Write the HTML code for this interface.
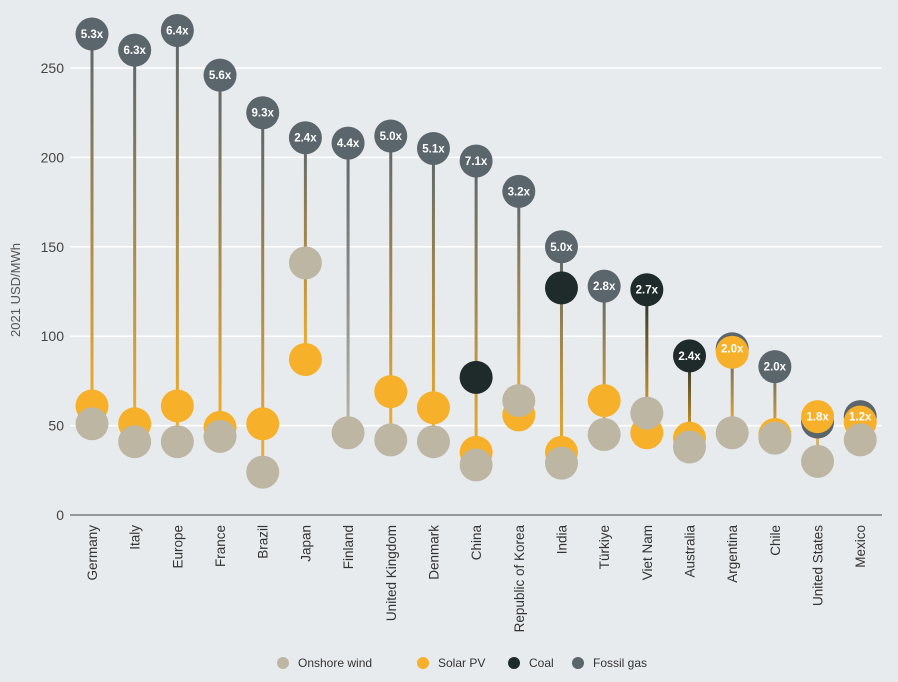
<!DOCTYPE html>
<html><head><meta charset="utf-8"><style>
body{margin:0;background:#e8ebee;font-family:"Liberation Sans",sans-serif;}
svg{display:block}
</style></head><body>
<svg id="chart" width="898" height="682">
<rect width="898" height="682" fill="#e8ebee"/>
<g id="grid"></g><g id="stems"></g><g id="dots"></g><g id="xlabels"></g>
<text x="20" y="290" transform="rotate(-90 20 290)" text-anchor="middle" font-size="13" fill="#555">2021 USD/MWh</text>
<g id="legend" font-size="12" fill="#333"></g>
</svg>
<script>
const categories=["Germany","Italy","Europe","France","Brazil","Japan","Finland","United Kingdom","Denmark","China","Republic of Korea","India","Türkiye","Viet Nam","Australia","Argentina","Chile","United States","Mexico"];
const gasValues=[269,260,271,246,225,211,208,212,205,198,181,150,128,null,null,93,83,52,55];
const coalValues=[null,null,null,null,null,null,null,null,null,77,null,127,null,126,89,null,null,null,null];
const solarValues=[61,51,61,49,51,87,null,69,60,35,56,35,64,46,43,91,45,55,52];
const windValues=[51,41,41,44,24,141,46,42,41,28,64,29,45,57,38,46,43,30,42];
const ratioLabels=["5.3x","6.3x","6.4x","5.6x","9.3x","2.4x","4.4x","5.0x","5.1x","7.1x","3.2x","5.0x","2.8x","2.7x","2.4x","2.0x","2.0x","1.8x","1.2x"];
const yTicks=[0,50,100,150,200,250];
const C={gas:"#5a656c",coal:"#1f2b2a",solar:"#f6b02a",wind:"#bcb6a3"};
const NS="http://www.w3.org/2000/svg";
const y=v=>515-v*1.788;
const x=i=>92+i*42.68;
const R=16.5;
function mk(t,a,p){const e=document.createElementNS(NS,t);for(const k in a)e.setAttribute(k,a[k]);p.appendChild(e);return e;}
const grid=document.getElementById('grid');
yTicks.forEach(t=>{
 const l=mk('line',{x1:70,x2:882,y1:y(t),y2:y(t),stroke:t===0?"#444":"#fff","stroke-width":t===0?1:1.5},grid);
 
 
 const tx=mk('text',{x:64,y:y(t)+5,"text-anchor":"end","font-size":14,fill:"#444"},grid);tx.textContent=t;
 
 
});
const defs=mk('defs',{},document.getElementById('chart'));
const stems=document.getElementById('stems'),dots=document.getElementById('dots'),xl=document.getElementById('xlabels');
categories.forEach((c,i)=>{
 const pts=[];
 if(gasValues[i]!=null)pts.push({v:gasValues[i],k:'gas'});
 if(coalValues[i]!=null)pts.push({v:coalValues[i],k:'coal'});
 if(solarValues[i]!=null)pts.push({v:solarValues[i],k:'solar'});
 if(windValues[i]!=null)pts.push({v:windValues[i],k:'wind'});
 const top=pts.reduce((a,b)=>b.v>a.v?b:a);
 const bot=pts.reduce((a,b)=>b.v<a.v?b:a);
 const endCol=solarValues[i]!=null&&top.k!=='solar'?C.solar:C.wind;
 const g=mk('linearGradient',{id:'g'+i,x1:0,y1:0,x2:0,y2:1},defs);
 mk('stop',{offset:'0%','stop-color':C[top.k]},g);mk('stop',{offset:'100%','stop-color':endCol},g);
 const ln=mk('rect',{x:x(i)-1.5,y:y(top.v),width:3,height:Math.max(1,y(bot.v)-y(top.v)),fill:'url(#g'+i+')'},stems);
 
 
 pts.forEach(p=>{
  const d=mk('circle',{cx:x(i),cy:y(p.v),r:R,fill:C[p.k]},dots);
  
  
 });
 const lab=mk('text',{x:x(i),y:y(top.v)+4,"text-anchor":"middle","font-size":11.5,"font-weight":"bold",fill:"#fff"},dots);
 lab.textContent=ratioLabels[i];
 
 
 const t=mk('text',{x:0,y:0,transform:`translate(${x(i)+5},525) rotate(-90)`,"text-anchor":"end","font-size":13.5,fill:"#333"},xl);
 t.textContent=c;
 
 
});
const leg=document.getElementById('legend');
[["Onshore wind",C.wind,283],["Solar PV",C.solar,423],["Coal",C.coal,514],["Fossil gas",C.gas,578]].forEach(([n,col,lx])=>{
 const cc=mk('circle',{cx:lx,cy:663,r:6,fill:col},leg);
 
 
 const t=mk('text',{x:lx+15,y:667},leg);t.textContent=n;
 
 
});
</script>
</body></html>
